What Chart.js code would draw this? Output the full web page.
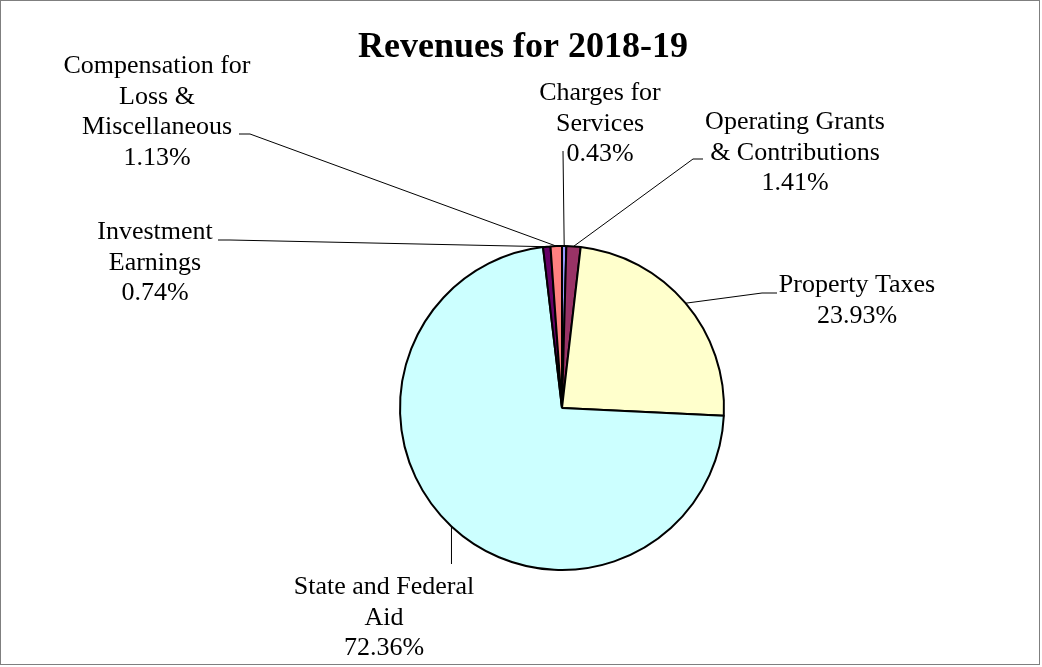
<!DOCTYPE html>
<html>
<head>
<meta charset="utf-8">
<script src="https://cdn.jsdelivr.net/npm/chart.js@4/dist/chart.umd.min.js"></script>
<style>
  body { margin: 0; background: #fff; }
  #revChart { display: block; }
</style>
</head>
<body>
<canvas id="revChart" width="1042" height="667"></canvas>
<script>
// Revenue sources, clockwise from 12 o'clock
const categories = [
    ['Charges for', 'Services'],
    ['Operating Grants', '& Contributions'],
    ['Property Taxes'],
    ['State and Federal', 'Aid'],
    ['Investment', 'Earnings'],
    ['Compensation for', 'Loss &', 'Miscellaneous']
];
const shares = [0.43, 1.41, 23.93, 72.36, 0.74, 1.13];
const sliceColors = ['#9999FF', '#993366', '#FFFFCC', '#CCFFFF', '#660066', '#FF8080'];

// where each label sits and how its leader line bends
const labelSpots = [
    { x: 600, y: 93,  path: [[563, 151]] },
    { x: 795, y: 122, path: [[693, 159], [703, 159]] },
    { x: 857, y: 285, path: [[762, 293], [777, 293]] },
    { x: 384, y: 587, path: [[null, 564]] },
    { x: 155, y: 232, path: [[230, 240], [218, 240]] },
    { x: 157, y: 66,  path: [[250, 134], [239, 134]] }
];

const LINE_H = 30.7;
const FONT = '26px "Liberation Serif", "Times New Roman", serif';

const pieDecor = {
    id: 'pieDecor',
    beforeDraw(chart) {
        const ctx = chart.ctx;
        ctx.save();
        ctx.fillStyle = '#fff';
        ctx.fillRect(0, 0, chart.width, chart.height);
        ctx.restore();
    },
    afterDatasetsDraw(chart) {
        const ctx = chart.ctx;
        const arcs = chart.getDatasetMeta(0).data;
        ctx.save();

        // leader lines
        ctx.strokeStyle = '#000';
        ctx.lineWidth = 1;
        arcs.forEach((arc, i) => {
            const mid = (arc.startAngle + arc.endAngle) / 2;
            const ax = arc.x + Math.cos(mid) * arc.outerRadius;
            const ay = arc.y + Math.sin(mid) * arc.outerRadius;
            ctx.beginPath();
            ctx.moveTo(ax, ay);
            labelSpots[i].path.forEach(p => {
                ctx.lineTo(p[0] === null ? ax : p[0], p[1]);
            });
            ctx.stroke();
        });

        // label text
        ctx.fillStyle = '#000';
        ctx.font = FONT;
        ctx.textAlign = 'center';
        ctx.textBaseline = 'middle';
        categories.forEach((lines, i) => {
            const spot = labelSpots[i];
            const all = lines.concat([shares[i].toFixed(2) + '%']);
            all.forEach((t, k) => ctx.fillText(t, spot.x, spot.y + k * LINE_H));
        });

        // title
        ctx.font = 'bold 36px "Liberation Serif", "Times New Roman", serif';
        ctx.fillText('Revenues for 2018-19', 523, 48);

        // outer frame
        ctx.strokeStyle = '#7f7f7f';
        ctx.strokeRect(0.5, 0.5, 1039, 664);
        ctx.restore();
    }
};

const ctx = document.getElementById('revChart');
const revChart = new Chart(ctx, {
    type: 'pie',
    data: {
        labels: categories.map(l => l.join(' ')),
        datasets: [{
            data: shares,
            backgroundColor: sliceColors,
            borderColor: '#000',
            borderWidth: 2
        }]
    },
    options: {
        responsive: false,
        animation: false,
        layout: { padding: { left: 399, right: 317, top: 245, bottom: 96 } },
        plugins: {
            legend: { display: false },
            tooltip: { enabled: false }
        }
    },
    plugins: [pieDecor]
});
</script>
</body>
</html>
